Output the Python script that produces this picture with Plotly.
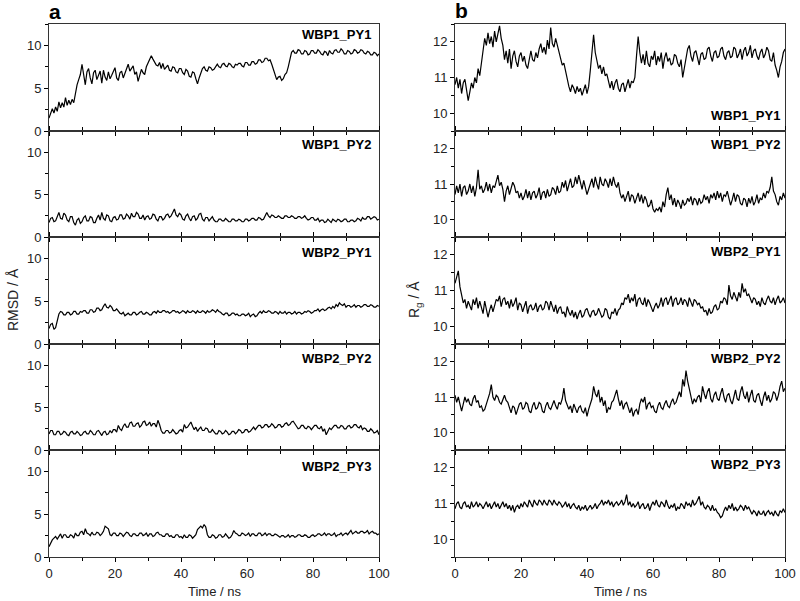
import plotly.graph_objects as go

# ---------------- data (0.5 ns resolution) ----------------
time_ns = [i / 2 for i in range(201)]

panel_names = ["WBP1_PY1", "WBP1_PY2", "WBP2_PY1", "WBP2_PY2", "WBP2_PY3"]

rmsd_wbp1_py1 = [1.5, 2.2, 2.6, 2.1, 2.8, 2.3, 3.4, 2.7, 3.3, 2.8, 3.9, 3.0, 3.6, 3.1, 3.7, 3.3, 4.6, 5.4, 6.0, 6.6,
                 7.8, 6.3, 5.4, 6.9, 7.3, 6.2, 5.5, 6.8, 7.1, 6.0, 6.4, 7.0, 5.6, 7.1, 6.3, 5.9, 6.9, 6.1, 6.5, 7.0,
                 7.4, 6.2, 5.9, 6.8, 7.0, 6.2, 6.7, 7.4, 7.8, 7.0, 7.3, 7.6, 6.6, 6.9, 5.8, 6.5, 7.2, 6.8, 6.6, 7.5,
                 7.9, 8.3, 8.8, 8.4, 8.1, 7.7, 7.6, 8.0, 7.3, 7.9, 7.2, 7.5, 7.7, 7.1, 7.0, 7.5, 7.4, 6.9, 6.8, 7.3,
                 7.3, 6.8, 6.6, 7.2, 7.0, 6.4, 6.3, 6.9, 6.8, 6.1, 5.5, 6.2, 6.7, 7.3, 7.5, 7.1, 7.0, 7.5, 7.4, 7.1,
                 7.2, 7.6, 7.8, 7.5, 7.4, 7.8, 7.9, 7.6, 7.5, 7.9, 7.8, 7.5, 7.4, 7.8, 7.7, 7.9, 7.9, 7.6, 7.5, 8.0,
                 8.0, 7.7, 7.7, 8.1, 8.1, 7.8, 7.9, 8.3, 8.3, 8.0, 8.1, 8.5, 8.5, 8.2, 8.3, 7.8, 7.2, 6.5, 6.0, 6.3,
                 6.4, 5.9, 6.1, 6.6, 6.8, 7.5, 8.6, 9.2, 9.4, 9.1, 9.1, 9.5, 9.4, 9.0, 9.0, 9.4, 9.3, 8.9, 9.0, 9.4,
                 9.4, 9.1, 9.1, 9.5, 9.3, 9.0, 8.9, 9.3, 9.2, 8.8, 9.4, 9.1, 9.0, 9.4, 9.5, 9.2, 9.2, 9.6, 9.4, 9.0,
                 9.0, 9.4, 9.3, 9.0, 9.1, 9.5, 9.4, 9.1, 9.2, 9.5, 9.4, 9.1, 9.0, 9.3, 9.2, 8.9, 8.9, 9.2, 9.1, 8.8,
                 9.0]
rmsd_wbp1_py2 = [1.7, 2.2, 2.3, 1.8, 1.9, 2.5, 2.9, 2.2, 2.1, 2.8, 2.6, 2.0, 1.8, 2.4, 2.4, 1.7, 1.4, 2.0, 2.2, 1.6,
                 1.8, 2.3, 2.5, 1.9, 1.9, 2.4, 2.3, 1.7, 1.7, 2.2, 2.6, 2.0, 2.9, 2.2, 2.0, 2.6, 2.5, 1.9, 1.8, 2.3,
                 2.4, 2.0, 2.1, 2.6, 2.6, 2.1, 2.2, 2.7, 2.5, 2.1, 2.8, 2.4, 2.4, 2.9, 2.7, 2.2, 2.2, 2.6, 2.0, 2.4,
                 2.5, 2.1, 2.2, 2.7, 2.6, 2.1, 1.9, 2.4, 2.4, 2.0, 2.2, 2.6, 2.7, 2.3, 2.5, 2.9, 3.3, 2.6, 2.4, 2.8,
                 2.6, 2.1, 2.0, 2.5, 2.7, 2.2, 1.9, 2.4, 2.5, 2.0, 2.2, 2.7, 2.8, 2.1, 1.9, 2.3, 2.3, 1.9, 2.1, 2.4,
                 2.0, 1.8, 1.8, 2.1, 2.1, 1.9, 1.9, 2.2, 2.0, 1.8, 1.8, 2.1, 2.1, 1.9, 1.9, 2.1, 2.0, 1.8, 1.8, 2.1,
                 2.1, 1.9, 2.0, 2.2, 2.2, 2.0, 2.0, 2.3, 2.2, 2.0, 2.1, 2.5, 2.9, 2.5, 2.3, 2.6, 2.5, 2.3, 2.3, 2.5,
                 2.4, 2.2, 2.2, 2.5, 2.5, 2.3, 2.3, 2.5, 2.4, 2.2, 2.2, 2.4, 2.4, 2.2, 2.3, 2.5, 2.2, 2.0, 2.1, 2.3,
                 2.3, 2.0, 2.0, 2.2, 1.8, 2.0, 2.0, 1.7, 1.8, 2.1, 1.9, 1.7, 2.1, 1.9, 1.8, 2.1, 2.0, 1.8, 1.9, 2.1,
                 2.1, 1.8, 1.8, 2.0, 2.0, 1.8, 1.9, 2.2, 2.1, 1.9, 2.3, 2.1, 2.1, 2.4, 2.4, 2.1, 2.2, 2.4, 2.3, 2.0,
                 2.1]
rmsd_wbp2_py1 = [1.8, 2.3, 2.4, 1.7, 1.9, 2.6, 3.5, 3.8, 3.7, 3.4, 3.4, 3.7, 3.7, 3.4, 3.5, 3.8, 3.8, 3.5, 3.5, 3.8,
                 3.7, 3.9, 3.9, 3.6, 3.6, 4.0, 4.0, 3.7, 3.8, 4.2, 4.2, 3.9, 4.0, 4.4, 4.7, 4.3, 4.2, 4.5, 4.3, 3.9,
                 3.9, 4.1, 3.8, 3.6, 3.5, 3.7, 3.3, 3.5, 3.6, 3.4, 3.4, 3.7, 3.7, 3.4, 3.5, 3.7, 3.8, 3.5, 3.5, 3.7,
                 3.6, 3.4, 3.4, 3.7, 3.8, 3.6, 3.9, 3.7, 3.7, 3.9, 3.9, 3.7, 3.8, 3.6, 3.7, 3.9, 3.9, 3.7, 3.8, 3.6,
                 3.7, 3.9, 3.8, 3.6, 3.9, 3.7, 3.7, 3.9, 3.8, 3.6, 3.9, 3.7, 3.7, 3.9, 3.8, 3.6, 3.9, 3.7, 3.8, 4.0,
                 3.9, 3.7, 4.0, 3.8, 3.7, 3.5, 3.4, 3.6, 3.6, 3.3, 3.4, 3.6, 3.6, 3.4, 3.5, 3.3, 3.3, 3.5, 3.5, 3.3,
                 3.4, 3.6, 3.2, 3.4, 3.5, 3.2, 3.3, 3.6, 3.8, 3.6, 3.9, 3.7, 3.7, 3.9, 3.8, 3.6, 3.6, 3.8, 3.7, 3.5,
                 3.8, 3.6, 3.6, 3.8, 3.5, 3.7, 3.7, 3.5, 3.6, 3.8, 3.5, 3.7, 3.7, 3.5, 3.6, 3.8, 3.7, 3.9, 3.8, 3.6,
                 3.7, 3.9, 3.9, 4.1, 3.8, 4.0, 4.1, 3.9, 4.0, 4.2, 4.3, 4.1, 4.4, 4.2, 4.6, 4.4, 4.8, 4.6, 4.5, 4.7,
                 4.3, 4.5, 4.5, 4.3, 4.4, 4.6, 4.3, 4.5, 4.5, 4.3, 4.4, 4.6, 4.6, 4.4, 4.4, 4.6, 4.5, 4.3, 4.3, 4.5,
                 4.4]
rmsd_wbp2_py2 = [1.9, 2.3, 2.3, 1.8, 1.8, 2.2, 2.2, 1.8, 1.9, 2.2, 2.1, 1.8, 1.7, 2.1, 2.2, 1.9, 1.9, 2.2, 2.0, 1.7,
                 1.8, 2.1, 2.2, 1.9, 1.9, 2.3, 2.1, 1.8, 1.8, 2.2, 2.3, 1.9, 1.7, 2.1, 2.2, 1.8, 1.9, 2.3, 2.0, 2.4,
                 2.4, 2.1, 2.9, 2.5, 2.3, 2.8, 3.1, 2.7, 2.7, 3.2, 3.3, 2.8, 2.8, 3.1, 3.2, 2.7, 2.9, 3.3, 3.4, 2.9,
                 3.0, 3.3, 2.8, 3.1, 3.1, 2.7, 3.5, 3.0, 2.3, 2.0, 2.0, 2.3, 2.3, 2.0, 2.1, 2.4, 2.2, 1.9, 2.0, 2.3,
                 2.4, 2.1, 3.0, 2.6, 2.7, 3.1, 3.3, 2.8, 2.4, 2.7, 2.2, 2.5, 2.7, 2.3, 2.3, 2.6, 2.5, 2.1, 2.1, 2.4,
                 2.2, 1.9, 1.9, 2.3, 2.2, 1.9, 2.0, 2.3, 2.1, 1.8, 1.9, 2.2, 2.2, 1.9, 2.1, 2.4, 2.3, 2.0, 2.1, 2.4,
                 2.4, 2.1, 2.2, 2.5, 2.7, 2.4, 2.6, 2.9, 2.9, 2.6, 2.7, 3.0, 3.0, 2.7, 2.8, 3.1, 2.9, 2.6, 2.7, 3.0,
                 3.0, 2.7, 2.8, 3.1, 3.2, 2.9, 3.0, 3.3, 3.4, 3.0, 2.8, 2.5, 2.6, 2.9, 2.9, 2.6, 2.5, 2.8, 2.7, 2.4,
                 2.6, 2.9, 2.9, 2.6, 2.5, 2.8, 2.2, 2.5, 1.8, 2.3, 2.6, 2.4, 2.7, 2.9, 2.9, 2.6, 2.6, 2.9, 2.8, 2.5,
                 2.5, 2.8, 2.9, 2.6, 2.7, 3.0, 3.0, 2.7, 2.6, 2.9, 2.4, 2.6, 2.5, 2.2, 2.2, 2.5, 2.3, 2.0, 2.1, 2.3,
                 1.8]
rmsd_wbp2_py3 = [1.2, 1.7, 2.0, 2.2, 2.4, 2.1, 2.5, 2.7, 2.2, 2.6, 2.6, 2.3, 2.3, 2.6, 2.5, 2.2, 2.8, 2.5, 2.5, 2.9,
                 3.0, 2.6, 3.3, 2.8, 2.7, 2.5, 2.9, 2.6, 2.6, 2.9, 2.8, 2.5, 2.7, 3.0, 3.6, 3.4, 3.3, 2.6, 2.5, 2.8,
                 2.8, 2.5, 2.5, 2.8, 2.7, 2.4, 2.6, 2.9, 2.8, 2.5, 2.4, 2.7, 2.7, 2.5, 2.5, 2.8, 2.8, 2.5, 2.6, 2.8,
                 2.4, 2.7, 2.7, 2.4, 2.5, 2.8, 2.9, 2.6, 2.6, 2.4, 2.4, 2.7, 2.7, 2.4, 2.5, 2.3, 2.3, 2.6, 2.6, 2.3,
                 2.4, 2.2, 2.6, 2.3, 2.3, 2.6, 2.5, 2.2, 2.4, 2.6, 3.2, 3.4, 3.6, 3.4, 3.8, 3.5, 2.6, 2.3, 2.3, 2.6,
                 2.5, 2.2, 2.3, 2.6, 2.6, 2.3, 2.4, 2.7, 2.5, 2.2, 2.3, 2.6, 3.1, 2.8, 2.7, 2.5, 2.5, 2.8, 2.7, 2.5,
                 2.6, 2.8, 2.4, 2.7, 2.7, 2.5, 2.5, 2.8, 2.8, 2.5, 2.6, 2.8, 2.5, 2.7, 2.7, 2.5, 2.5, 2.7, 2.6, 2.4,
                 2.3, 2.5, 2.5, 2.3, 2.4, 2.6, 2.3, 2.5, 2.5, 2.3, 2.4, 2.6, 2.6, 2.4, 2.4, 2.6, 2.5, 2.3, 2.3, 2.5,
                 2.6, 2.4, 2.5, 2.7, 2.7, 2.5, 2.6, 2.8, 2.5, 2.7, 2.7, 2.5, 2.6, 2.8, 2.4, 2.6, 2.6, 2.8, 2.5, 2.7,
                 2.8, 2.6, 2.9, 3.1, 2.7, 2.9, 3.0, 2.8, 2.8, 3.0, 3.0, 2.8, 2.9, 3.1, 2.7, 2.9, 3.0, 2.8, 2.8, 2.6,
                 2.7]

rg_wbp1_py1 = [10.8, 11.0, 10.7, 10.95, 10.55, 10.85, 10.95, 10.7, 10.35, 10.6, 10.85, 10.7, 11.0, 10.85, 11.25, 11.05,
               11.4, 11.9, 12.1, 11.9, 12.25, 11.95, 12.15, 11.85, 12.3, 12.0, 12.2, 12.45, 12.1, 11.9, 11.5, 11.75,
               11.4, 11.8, 11.25, 11.6, 11.75, 11.45, 11.3, 11.6, 11.7, 11.45, 11.6, 11.35, 11.25, 11.55, 11.75, 11.5,
               11.45, 11.7, 11.55, 11.8, 11.95, 11.7, 11.85, 11.65, 12.05, 11.8, 12.4, 11.95, 11.85, 12.1, 11.9, 11.7,
               11.55, 11.35, 11.4, 11.15, 11.0, 10.75, 10.6, 10.8, 10.7, 10.55, 10.75, 10.6, 10.7, 10.5, 10.65, 10.8,
               10.55, 10.75, 11.2, 11.7, 12.2, 11.7, 11.5, 11.25, 11.35, 11.1, 11.3, 11.05, 11.1, 10.85, 10.7, 10.9,
               10.65, 10.85, 10.95, 10.7, 10.6, 10.8, 10.85, 10.6, 10.75, 10.95, 10.7, 10.9, 10.85, 11.0, 11.6, 12.15,
               11.7, 11.4, 11.65, 11.35, 11.75, 11.4, 11.3, 11.6, 11.5, 11.75, 11.35, 11.6, 11.45, 11.7, 11.25, 11.55,
               11.7, 11.45, 11.55, 11.35, 11.4, 11.65, 11.6, 11.4, 11.3, 11.5, 11.0, 11.3, 11.55, 11.8, 11.9, 11.6,
               11.45, 11.7, 11.75, 11.5, 11.35, 11.65, 11.7, 11.5, 11.55, 11.8, 11.85, 11.6, 11.45, 11.7, 11.75, 11.55,
               11.6, 11.8, 11.85, 11.6, 11.5, 11.7, 11.75, 11.55, 11.6, 11.85, 11.8, 11.55, 11.65, 11.8, 11.5, 11.75,
               11.85, 11.6, 11.7, 11.9, 11.55, 11.75, 11.8, 11.6, 11.5, 11.7, 11.8, 11.55, 11.65, 11.85, 11.75, 11.5,
               11.45, 11.7, 11.35, 11.2, 11.0, 11.3, 11.45, 11.7, 11.8]
rg_wbp1_py2 = [10.7, 10.95, 10.75, 11.0, 10.65, 10.9, 10.95, 10.7, 10.8, 11.0, 10.75, 10.95, 10.65, 10.9, 11.4, 10.85,
               10.95, 10.75, 10.85, 11.05, 10.8, 11.0, 10.75, 10.95, 10.9, 11.1, 11.25, 10.95, 11.05, 10.85, 10.5,
               10.8, 10.95, 10.7, 10.85, 11.05, 10.95, 10.75, 10.8, 10.6, 10.75, 10.55, 10.65, 10.85, 10.6, 10.8,
               10.55, 10.75, 10.8, 10.6, 10.7, 10.9, 10.55, 10.75, 10.8, 10.6, 10.85, 10.65, 10.7, 10.9, 10.85, 10.7,
               10.95, 10.75, 10.8, 11.05, 10.9, 11.1, 10.8, 11.0, 11.15, 10.9, 10.95, 11.2, 11.0, 11.25, 11.05, 10.85,
               11.1, 10.9, 10.7, 10.85, 11.0, 11.15, 10.9, 11.2, 11.0, 10.85, 11.2, 11.0, 10.95, 11.15, 11.05, 10.9,
               11.15, 10.95, 11.2, 11.0, 10.9, 11.05, 10.75, 10.6, 10.7, 10.5, 10.65, 10.8, 10.5, 10.7, 10.65, 10.45,
               10.6, 10.75, 10.5, 10.7, 10.45, 10.65, 10.55, 10.35, 10.4, 10.55, 10.3, 10.2, 10.3, 10.25, 10.35, 10.2,
               10.5, 10.35, 10.7, 10.9, 10.55, 10.7, 10.4, 10.6, 10.35, 10.55, 10.45, 10.3, 10.55, 10.4, 10.45, 10.6,
               10.5, 10.65, 10.4, 10.6, 10.55, 10.4, 10.6, 10.45, 10.5, 10.7, 10.55, 10.65, 10.45, 10.7, 10.6, 10.75,
               10.55, 10.8, 10.6, 10.75, 10.5, 10.7, 10.65, 10.8, 10.6, 10.4, 10.55, 10.75, 10.5, 10.7, 10.65, 10.45,
               10.4, 10.6, 10.55, 10.35, 10.6, 10.45, 10.65, 10.4, 10.5, 10.7, 10.45, 10.6, 10.55, 10.75, 10.6, 10.8,
               10.75, 10.9, 11.2, 10.8, 10.7, 10.5, 10.4, 10.65, 10.55, 10.75, 10.6]
rg_wbp2_py1 = [11.2, 11.35, 11.55, 11.1, 10.85, 10.65, 10.75, 10.5, 10.7, 10.55, 10.45, 10.75, 10.6, 10.8, 10.5, 10.7,
               10.55, 10.35, 10.7, 10.5, 10.25, 10.45, 10.6, 10.4, 10.55, 10.75, 10.7, 10.85, 10.55, 10.75, 10.8, 10.6,
               10.7, 10.5, 10.75, 10.55, 10.65, 10.8, 10.45, 10.65, 10.6, 10.4, 10.55, 10.7, 10.35, 10.55, 10.6, 10.45,
               10.5, 10.65, 10.4, 10.55, 10.6, 10.45, 10.5, 10.7, 10.65, 10.45, 10.7, 10.55, 10.4, 10.6, 10.35, 10.5,
               10.55, 10.35, 10.4, 10.25, 10.55, 10.4, 10.3, 10.45, 10.25, 10.4, 10.2, 10.35, 10.45, 10.25, 10.3, 10.45,
               10.5, 10.35, 10.25, 10.4, 10.45, 10.3, 10.35, 10.5, 10.4, 10.25, 10.3, 10.5, 10.45, 10.25, 10.2, 10.4,
               10.35, 10.5, 10.3, 10.45, 10.5, 10.65, 10.6, 10.8, 10.75, 10.9, 10.65, 10.8, 10.7, 10.9, 10.55, 10.75,
               10.8, 10.65, 10.6, 10.8, 10.55, 10.75, 10.65, 10.5, 10.4, 10.55, 10.65, 10.5, 10.6, 10.8, 10.55, 10.75,
               10.8, 10.6, 10.7, 10.85, 10.55, 10.75, 10.8, 10.6, 10.65, 10.8, 10.6, 10.75, 10.7, 10.55, 10.8, 10.65,
               10.55, 10.75, 10.7, 10.6, 10.65, 10.5, 10.55, 10.4, 10.45, 10.3, 10.5, 10.35, 10.4, 10.55, 10.6, 10.45,
               10.5, 10.7, 10.65, 10.8, 10.75, 10.6, 11.15, 10.85, 10.75, 10.95, 10.85, 10.7, 10.95, 10.8, 11.2, 10.95,
               11.05, 10.85, 10.9, 10.75, 10.65, 10.8, 10.75, 10.6, 10.7, 10.55, 10.8, 10.65, 10.6, 10.75, 10.85, 10.7,
               10.65, 10.8, 10.6, 10.75, 10.85, 10.65, 10.7, 10.8, 10.65]
rg_wbp2_py2 = [11.05, 10.85, 11.0, 10.75, 10.6, 10.8, 11.0, 10.85, 10.95, 10.8, 10.75, 10.95, 11.05, 10.85, 10.9, 10.7,
               10.75, 10.6, 10.65, 10.8, 10.95, 11.1, 11.35, 11.0, 10.9, 11.05, 11.0, 10.85, 10.8, 10.95, 11.05, 10.9,
               10.85, 10.7, 10.55, 10.75, 10.7, 10.5, 10.65, 10.8, 10.85, 10.65, 10.7, 10.85, 10.8, 10.6, 10.55, 10.75,
               10.85, 10.65, 10.7, 10.85, 10.8, 10.6, 10.55, 10.75, 10.85, 10.7, 10.65, 10.8, 10.9, 10.75, 10.65, 10.85,
               10.8, 10.95, 11.25, 10.9, 10.8, 10.65, 10.75, 10.55, 10.8, 10.65, 10.55, 10.7, 10.75, 10.6, 10.55, 10.7,
               10.45, 10.65, 10.8, 10.95, 11.3, 11.1, 11.0, 11.2, 10.85, 11.0, 10.75, 10.9, 10.55, 10.7, 10.65, 10.85,
               10.9, 11.05, 11.2, 10.95, 10.75, 10.9, 10.65, 10.8, 10.85, 10.7, 10.55, 10.7, 10.45, 10.6, 10.65, 10.5,
               10.8, 10.95, 10.85, 11.0, 10.65, 10.8, 10.85, 10.7, 10.75, 10.6, 10.55, 10.75, 10.85, 10.7, 10.65, 10.8,
               10.9, 10.75, 10.7, 10.85, 10.95, 10.8, 10.85, 11.0, 11.15, 11.0, 11.5, 11.3, 11.75, 11.45, 11.25, 11.05,
               10.8, 10.95, 10.85, 11.0, 11.05, 10.85, 11.3, 11.1, 10.95, 11.15, 11.25, 10.95, 10.85, 11.05, 11.15,
               10.95, 10.9, 11.1, 11.25, 11.0, 10.85, 11.05, 11.1, 10.9, 10.8, 11.0, 11.2, 10.95, 10.9, 11.15, 11.3,
               11.05, 10.95, 11.15, 10.85, 11.05, 11.2, 10.9, 10.85, 11.05, 11.1, 10.9, 10.75, 11.0, 11.15, 10.9,
               11.05, 10.85, 10.95, 11.15, 11.1, 10.9, 11.05, 11.3, 11.45, 11.15, 11.25]
rg_wbp2_py3 = [10.85, 11.0, 11.05, 10.9, 10.85, 11.0, 11.05, 10.9, 10.95, 10.85, 11.05, 10.9, 10.95, 11.05, 10.9, 11.0,
               10.95, 10.85, 10.95, 11.05, 10.9, 11.0, 10.85, 10.95, 11.05, 10.9, 11.0, 10.85, 10.95, 11.05, 10.9,
               11.0, 10.85, 10.95, 10.8, 10.95, 10.75, 10.9, 10.95, 10.85, 11.0, 10.9, 11.05, 10.95, 10.9, 11.1, 11.0,
               10.9, 11.1, 11.0, 10.95, 11.1, 11.05, 10.95, 11.1, 11.0, 10.95, 11.1, 11.05, 10.95, 11.1, 11.0, 10.95,
               11.05, 11.0, 10.9, 10.95, 11.05, 10.9, 11.0, 10.85, 10.95, 11.0, 10.9, 10.85, 10.95, 10.8, 10.9, 10.85,
               10.95, 10.8, 10.9, 10.95, 10.85, 10.9, 11.0, 10.85, 10.95, 11.0, 11.1, 10.95, 11.05, 11.0, 11.1, 10.95,
               11.05, 10.9, 11.0, 11.05, 10.95, 11.0, 11.1, 10.95, 11.05, 11.25, 10.95, 11.05, 10.9, 11.0, 10.9, 10.95,
               11.05, 10.85, 10.95, 11.0, 10.85, 10.9, 11.0, 10.8, 10.95, 11.05, 10.95, 11.1, 10.95, 10.9, 11.05, 11.0,
               10.9, 11.1, 10.95, 10.85, 10.95, 10.9, 11.0, 10.8, 10.9, 10.85, 11.0, 10.95, 10.85, 11.05, 10.95, 11.0,
               10.9, 11.1, 10.95, 11.0, 11.1, 11.2, 10.95, 11.05, 10.9, 10.85, 10.95, 10.9, 10.8, 10.95, 10.8, 10.85,
               10.75, 10.7, 10.6, 10.65, 10.8, 10.9, 10.8, 10.95, 10.85, 11.0, 10.8, 10.9, 10.8, 10.85, 10.95, 10.9,
               10.8, 10.95, 10.85, 10.9, 10.8, 10.7, 10.8, 10.75, 10.65, 10.8, 10.7, 10.7, 10.8, 10.65, 10.75, 10.8,
               10.7, 10.75, 10.65, 10.8, 10.7, 10.65, 10.8, 10.75, 10.85, 10.75]

rmsd_series = [rmsd_wbp1_py1, rmsd_wbp1_py2, rmsd_wbp2_py1, rmsd_wbp2_py2, rmsd_wbp2_py3]
rg_series = [rg_wbp1_py1, rg_wbp1_py2, rg_wbp2_py1, rg_wbp2_py2, rg_wbp2_py3]

x_ticks = [0, 20, 40, 60, 80, 100]
rmsd_ticks = [0, 5, 10]
rg_ticks = [10, 11, 12]

# ---------------- layout geometry (pixels) ----------------
W, H = 800, 601
col_px = [(49, 379), (455, 785)]
row_edges = [24, 131, 237, 344, 450, 557]
FONT = "Liberation Sans, Arial, sans-serif"


def fx(p):
    return p / W


def fy(p):
    return 1 - p / H


fig = go.Figure()
layout = {}
annotations = []

for c in range(2):
    data = rmsd_series if c == 0 else rg_series
    for r in range(5):
        k = c * 5 + r + 1
        sx = "" if k == 1 else str(k)
        xref, yref = "x" + sx, "y" + sx
        y = data[r]
        t = time_ns[:len(y)]
        fig.add_trace(go.Scatter(x=t, y=y, mode="lines", line=dict(color="black", width=1.2),
                                 xaxis=xref, yaxis=yref, showlegend=False, hoverinfo="skip"))
        x0, x1 = col_px[c]
        y0 = row_edges[r]
        y1 = row_edges[r + 1]
        bottom = (r == 4)
        layout["xaxis" + sx] = dict(
            domain=[fx(x0), fx(x1)], anchor=yref, range=[0, 100], automargin=False,
            tickmode="array", tickvals=x_ticks, ticks="outside", ticklen=4, tickwidth=1, tickcolor="black",
            minor=dict(dtick=10, tick0=0, ticks="outside", ticklen=3, tickcolor="black"),
            showline=True, linecolor="#333", linewidth=1, mirror=("ticks" if r > 0 else True),
            showgrid=False, zeroline=False, showticklabels=bottom,
            tickfont=dict(family=FONT, size=13, color="#222"),
        )
        if c == 0:
            yr, yt, ydt = [0, 12.5], rmsd_ticks, 2.5
        else:
            yr, yt, ydt = [9.5, 12.5], rg_ticks, 0.5
        layout["yaxis" + sx] = dict(
            domain=[fy(y1), fy(y0)], anchor=xref, range=yr, automargin=False,
            tickmode="array", tickvals=yt, ticks="outside", ticklen=4, tickwidth=1, tickcolor="black",
            minor=dict(dtick=ydt, tick0=0, ticks="outside", ticklen=3, tickcolor="black"),
            showline=True, linecolor="#333", linewidth=1, mirror=True,
            showgrid=False, zeroline=False,
            tickfont=dict(family=FONT, size=13, color="#222"),
        )

# panel labels
left_label_y = [35, 144.5, 252, 358.5, 466]
right_label_y = [115.5, 144.5, 251.5, 358, 464]
for r in range(5):
    annotations.append(dict(x=fx(373), y=fy(left_label_y[r]), xref="paper", yref="paper",
                            text="<b>%s</b>" % panel_names[r], showarrow=False, xanchor="right",
                            yanchor="middle", font=dict(family=FONT, size=13, color="black")))
    annotations.append(dict(x=fx(782), y=fy(right_label_y[r]), xref="paper", yref="paper",
                            text="<b>%s</b>" % panel_names[r], showarrow=False, xanchor="right",
                            yanchor="middle", font=dict(family=FONT, size=13, color="black")))

# a / b
annotations.append(dict(x=fx(47), y=fy(12), xref="paper", yref="paper", text="<b>a</b>", showarrow=False,
                        xanchor="left", yanchor="middle", font=dict(family=FONT, size=21, color="black")))
annotations.append(dict(x=fx(453), y=fy(11), xref="paper", yref="paper", text="<b>b</b>", showarrow=False,
                        xanchor="left", yanchor="middle", font=dict(family=FONT, size=21, color="black")))

# axis titles
for xc in [(49 + 379) / 2, (455 + 785) / 2]:
    annotations.append(dict(x=fx(xc), y=fy(591), xref="paper", yref="paper", text="Time / ns",
                            showarrow=False, xanchor="center", yanchor="middle",
                            font=dict(family=FONT, size=13, color="#222")))
annotations.append(dict(x=fx(13), y=fy(300), xref="paper", yref="paper", text="RMSD / Å",
                        showarrow=False, textangle=-90, xanchor="center", yanchor="middle",
                        font=dict(family=FONT, size=14, color="#222")))
annotations.append(dict(x=fx(415), y=fy(300), xref="paper", yref="paper", text="R<sub>g</sub> / Å",
                        showarrow=False, textangle=-90, xanchor="center", yanchor="middle",
                        font=dict(family=FONT, size=14, color="#222")))

fig.update_layout(**layout)
fig.update_layout(template="none", width=W, height=H,
                  margin=dict(l=0, r=0, t=0, b=0, autoexpand=False),
                  plot_bgcolor="white", paper_bgcolor="white",
                  annotations=annotations, font=dict(family=FONT))

fig.write_html("out.html", config={"displayModeBar": False},
               post_script="document.body.style.margin='0';document.body.style.overflow='hidden';")
